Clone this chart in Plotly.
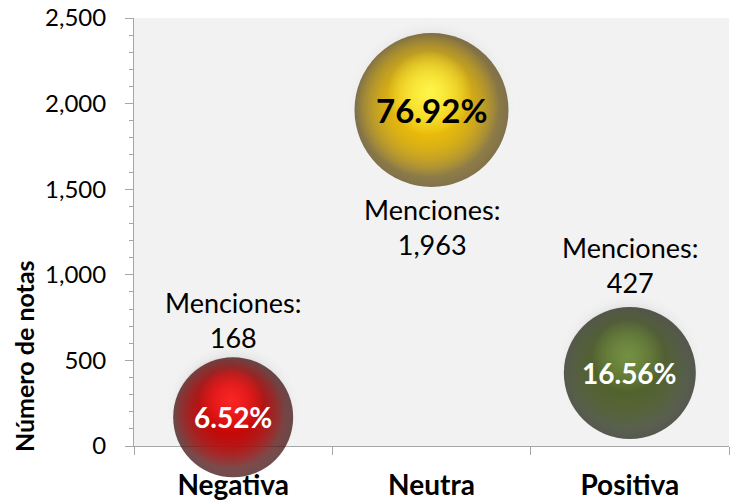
import plotly.graph_objects as go

# Sentiment categories and their values
categories = ["Negativa", "Neutra", "Positiva"]
menciones = [168, 1963, 427]
porcentajes = ["6.52%", "76.92%", "16.56%"]

# Sphere styling per category: pixel diameter and RGB tones (highlight, body, rim)
diametros = [120, 154, 132]
light_rgb = [(255, 40, 40), (255, 250, 80), (120, 148, 70)]
base_rgb = [(205, 0, 0), (245, 195, 0), (80, 99, 40)]
edge_rgb = [(50, 0, 0), (80, 58, 0), (18, 24, 8)]
pct_text_colors = ["white", "black", "white"]

FONT = "Lato"
W, H = 732, 503
M_L, M_R, M_T, M_B = 134, 3, 18, 57
Y_MAX = 2500
y_units_per_px = Y_MAX / (H - M_T - M_B)
x_units_per_px = len(categories) / (W - M_L - M_R)
pos = list(range(len(categories)))


def rgba(c, a=1.0):
    return f"rgba({c[0]},{c[1]},{c[2]},{a})"


def sphere_layer(scale, dx_px, dy_px, rim, centre, extra=0):
    # radial gradient: gradient colour is the centre, marker colour the rim
    return go.Scatter(
        x=[p + dx_px * x_units_per_px for p in pos],
        y=[v + dy_px * y_units_per_px for v in menciones],
        mode="markers",
        marker=dict(size=[d * scale + extra for d in diametros], color=rim,
                    gradient=dict(type="radial", color=centre), line=dict(width=0)),
        hoverinfo="skip", cliponaxis=False, showlegend=False)


fig = go.Figure()
# soft shadow halo, pushed slightly upwards
for _ in range(3):
    fig.add_trace(sphere_layer(1.0, 0, 7, "rgba(242,242,242,0)", "rgba(60,60,60,0.9)", extra=16))
# body with dark rim
fig.add_trace(sphere_layer(1.0, 0, 0, [rgba(c) for c in edge_rgb], [rgba(c) for c in base_rgb]))
# saturated core, nudged up-left so the rim stays darker at bottom-right
for _ in range(3):
    fig.add_trace(sphere_layer(0.93, -4, 5, [rgba(c, 0) for c in base_rgb], [rgba(c) for c in base_rgb]))
# specular highlight above the centre
for _ in range(2):
    fig.add_trace(sphere_layer(0.55, -2, 17, [rgba(c, 0) for c in light_rgb], [rgba(c) for c in light_rgb]))

# percentage inside each sphere
for p, val, pct, tc, d in zip(pos, menciones, porcentajes, pct_text_colors, diametros):
    fig.add_annotation(x=p, y=val, text=f"<b>{pct}</b>", showarrow=False,
                       font=dict(family=FONT, size=33 if d > 140 else 28, color=tc))

# mention count labels
label_shift = [97, -117, 108]
for p, val, dy in zip(pos, menciones, label_shift):
    fig.add_annotation(x=p, y=val, yshift=dy, text=f"Menciones:<br>{val:,}",
                       showarrow=False, font=dict(family=FONT, size=27, color="black"))

fig.add_annotation(xref="paper", yref="paper", x=-0.185, y=0.21, xanchor="center",
                   yanchor="middle", textangle=-90,
                   text="<b>Número de notas</b>", showarrow=False,
                   font=dict(family=FONT, size=25, color="black"))

fig.update_layout(
    width=W, height=H,
    margin=dict(l=M_L, r=M_R, t=M_T, b=M_B),
    paper_bgcolor="white", plot_bgcolor="#F2F2F2",
    font=dict(family=FONT, color="black"),
    xaxis=dict(range=[-0.5, len(categories) - 0.5], tickvals=pos,
               ticktext=[f"<b>{c}</b>" for c in categories], ticks="",
               showgrid=False, zeroline=False, showline=True, automargin=False,
               linecolor="#A6A6A6", linewidth=1, layer="below traces",
               minor=dict(tickvals=[p - 0.5 for p in pos] + [pos[-1] + 0.5],
                          ticks="outside", ticklen=8, tickcolor="#A6A6A6", showgrid=False),
               tickfont=dict(family=FONT, size=28, color="black"),
               ticklabelstandoff=14),
    yaxis=dict(range=[0, Y_MAX], tickvals=list(range(0, Y_MAX + 1, 500)),
               tickformat=",", showgrid=False, zeroline=False, showline=True, automargin=False,
               linecolor="#A6A6A6", linewidth=1, ticks="outside", ticklen=8,
               tickcolor="#A6A6A6", layer="below traces",
               minor=dict(dtick=100, ticks="outside", ticklen=4, tickcolor="#A6A6A6", showgrid=False),
               tickfont=dict(family=FONT, size=24, color="black"), ticklabelstandoff=14),
)

fig.write_html("out.html")
